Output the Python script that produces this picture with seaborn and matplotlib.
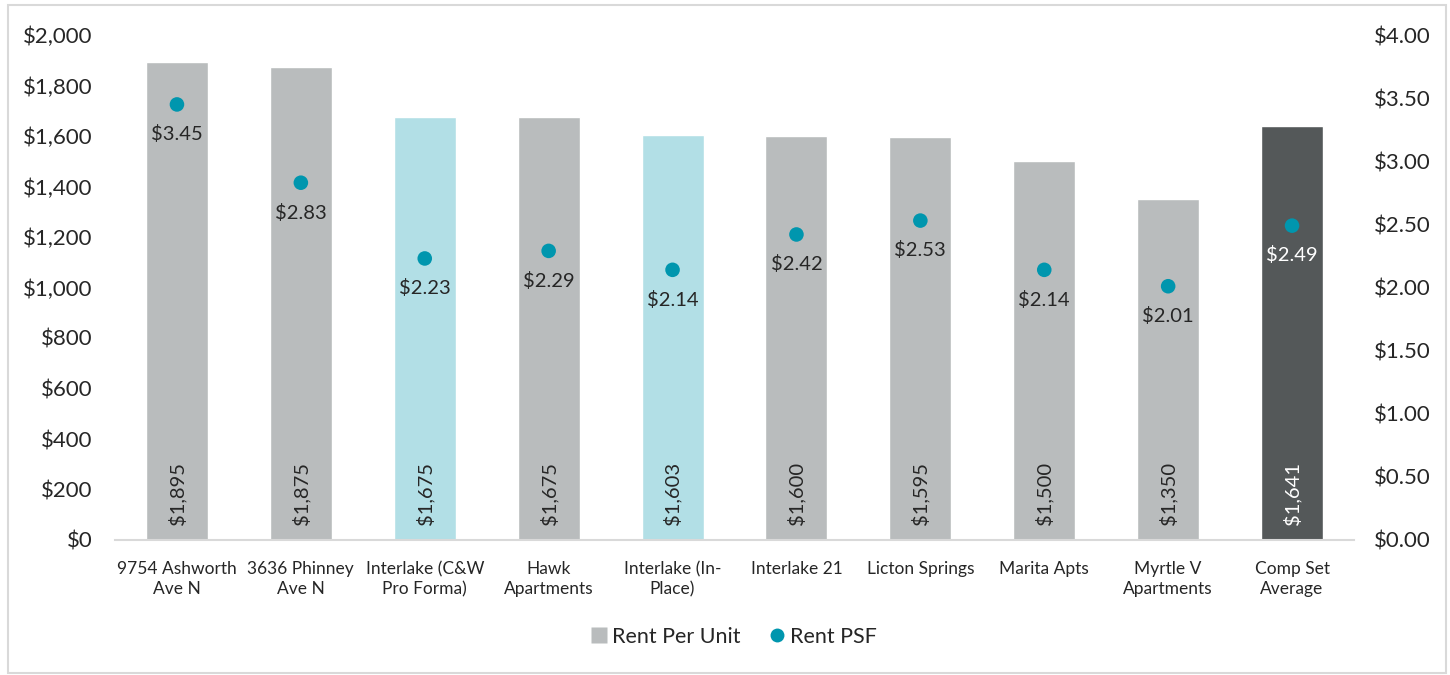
import numpy as np
import pandas as pd
import matplotlib
matplotlib.use('Agg')
import matplotlib.pyplot as plt
import seaborn as sns
from matplotlib.patches import Rectangle
from matplotlib.lines import Line2D

# data
properties = ['9754 Ashworth\nAve N', '3636 Phinney\nAve N', 'Interlake (C&W\nPro Forma)', 'Hawk\nApartments',
              'Interlake (In-\nPlace)', 'Interlake 21', 'Licton Springs', 'Marita Apts',
              'Myrtle V\nApartments', 'Comp Set\nAverage']
rent_unit = [1895, 1875, 1675, 1675, 1603, 1600, 1595, 1500, 1350, 1641]
rent_psf = [3.45, 2.83, 2.23, 2.29, 2.14, 2.42, 2.53, 2.14, 2.01, 2.49]
bar_colors = ['#B9BCBD', '#B9BCBD', '#B2DFE6', '#B9BCBD', '#B2DFE6', '#B9BCBD', '#B9BCBD', '#B9BCBD', '#B9BCBD', '#545859']
dot_color = '#0096AE'

df = pd.DataFrame({'property': properties, 'unit': rent_unit, 'psf': rent_psf})

sns.set_theme(style='white')
plt.rcParams['font.family'] = ['Lato', 'DejaVu Sans']

f = plt.figure(figsize=(14.5, 6.75), dpi=100)
ax = f.add_axes([115 / 1450, 1 - 540 / 675, (1354 - 115) / 1450, 505 / 675])

sns.barplot(data=df, x='property', y='unit', hue='property', palette=bar_colors, legend=False,
            width=0.5, saturation=1, ax=ax)
ax.set_ylim(0, 2000)
ax.set_xlim(-0.5, len(properties) - 0.5)
ax.set_yticks(np.arange(0, 2001, 200))
ax.set_yticklabels([f'${v:,}' for v in range(0, 2001, 200)], fontsize=16)
ax.set_xlabel('')
ax.set_ylabel('')
ax.tick_params(axis='x', labelsize=12.5, length=0, pad=15)
ax.tick_params(axis='y', length=0, pad=16)
for lbl in ax.get_xticklabels():
    lbl.set_linespacing(1.35)
for s in ['top', 'right', 'left']:
    ax.spines[s].set_visible(False)
ax.spines['bottom'].set_color('#D9D9D9')
ax.spines['bottom'].set_linewidth(1.5)

for i, v in enumerate(rent_unit):
    c = 'white' if i == len(rent_unit) - 1 else '#262626'
    ax.text(i, 60, f'${v:,}', rotation=90, ha='center', va='bottom', fontsize=14.5, color=c)

ax2 = ax.twinx()
sns.scatterplot(x=np.arange(len(rent_psf)), y=rent_psf, color=dot_color, s=110, edgecolor='none', ax=ax2, zorder=5)
ax2.set_ylim(0, 4)
ax2.set_yticks(np.arange(0, 4.01, 0.5))
ax2.set_yticklabels([f'${v:.2f}' for v in np.arange(0, 4.01, 0.5)], fontsize=16)
ax2.tick_params(axis='y', length=0, pad=14)
for s in ['top', 'right', 'left', 'bottom']:
    ax2.spines[s].set_visible(False)

for i, v in enumerate(rent_psf):
    c = 'white' if i == len(rent_psf) - 1 else '#262626'
    ax2.annotate(f'${v:.2f}', (i, v), xytext=(0, -15), textcoords='offset points',
                 ha='center', va='top', fontsize=14.5, color=c)

handles = [Line2D([0], [0], marker='s', color='none', markerfacecolor='#B9BCBD', markeredgecolor='none', markersize=11),
           Line2D([0], [0], marker='o', color='none', markerfacecolor=dot_color, markeredgecolor='none', markersize=10)]
f.legend(handles, ['Rent Per Unit', 'Rent PSF'], loc='center', bbox_to_anchor=(733 / 1450, 1 - 637 / 675),
         ncol=2, frameon=False, fontsize=15.5, handletextpad=0.1, columnspacing=1.2, handlelength=1)

f.patches.append(Rectangle((8 / 1450, 2 / 675), 1438 / 1450, 668 / 675, transform=f.transFigure,
                           fill=False, edgecolor='#D9D9D9', linewidth=1.5))

plt.savefig('out.png', dpi=100)
